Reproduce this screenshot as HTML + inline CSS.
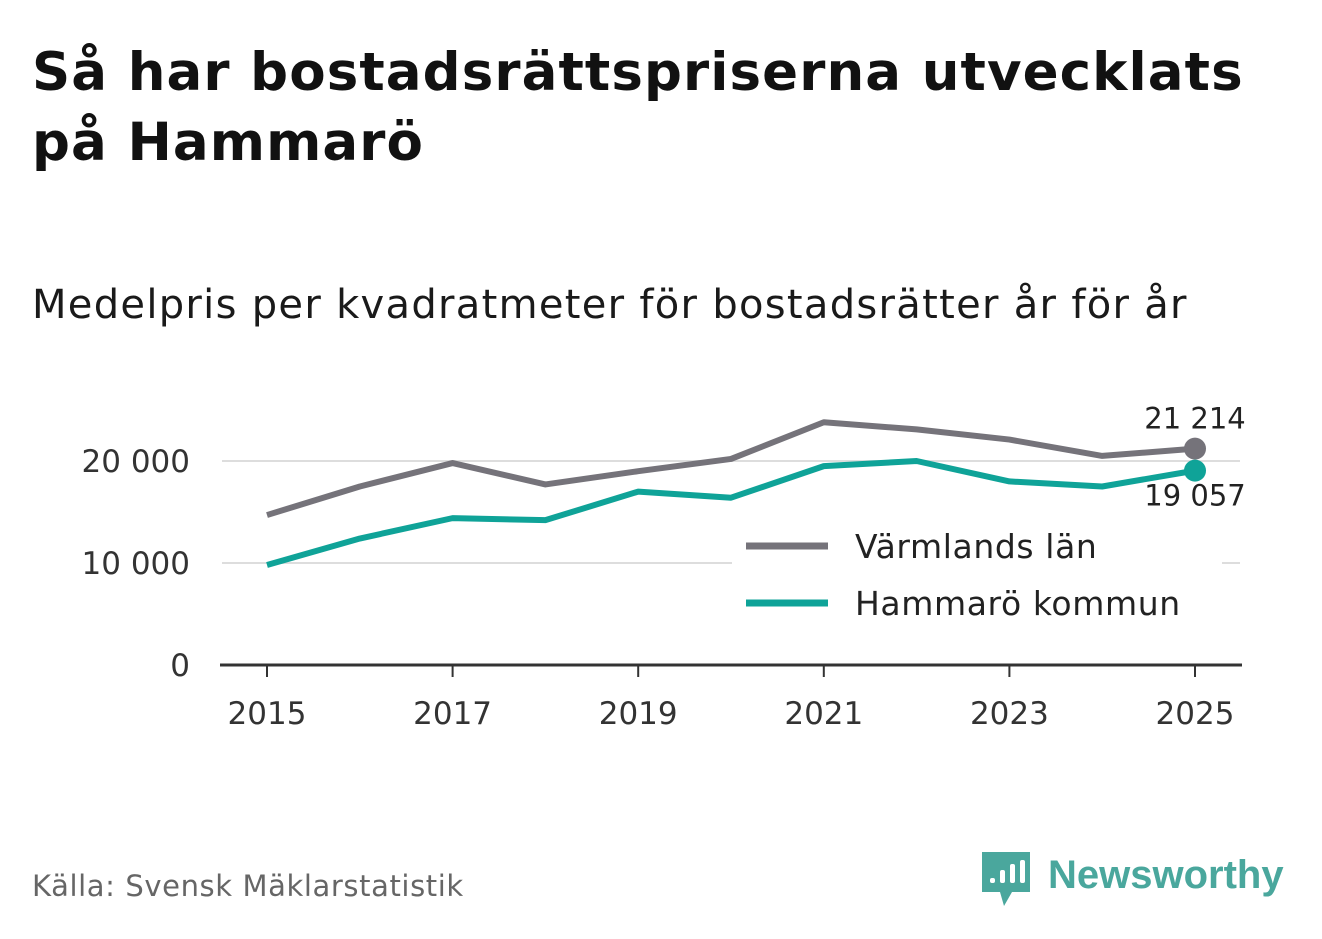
<!DOCTYPE html>
<html><head><meta charset="utf-8">
<style>
body{margin:0;background:#fff;width:1322px;height:939px;overflow:hidden;font-family:"DejaVu Sans","Liberation Sans",sans-serif;}
#title{position:absolute;left:32px;top:38px;font-size:53px;font-weight:bold;color:#111;line-height:70px;letter-spacing:1.1px;white-space:nowrap;}
#sub{position:absolute;left:32px;top:282px;font-size:40px;color:#1a1a1a;letter-spacing:1.3px;white-space:nowrap;}
#src{position:absolute;left:32px;top:869px;font-size:29px;color:#666;letter-spacing:0.6px;}
</style></head><body>
<div id="title">Så har bostadsrättspriserna utvecklats<br>på Hammarö</div>
<div id="sub">Medelpris per kvadratmeter för bostadsrätter år för år</div>
<div id="src">Källa: Svensk Mäklarstatistik</div>
<svg id="chart" width="1322" height="939" style="position:absolute;left:0;top:0"></svg>
<script>
const years=[2015,2016,2017,2018,2019,2020,2021,2022,2023,2024,2025];
const varmland=[14700,17500,19800,17700,19000,20200,23800,23100,22100,20500,21214];
const hammaro=[9800,12400,14400,14200,17000,16400,19500,20000,18000,17500,19057];
const yTicks=[0,10000,20000];
const xTicks=[2015,2017,2019,2021,2023,2025];
const svg=document.getElementById('chart');const NS='http://www.w3.org/2000/svg';
const x=v=>267+(v-2015)*92.8;const y=v=>665-v*0.0102;
function mk(t,a,txt){const e=document.createElementNS(NS,t);for(const k in a)e.setAttribute(k,a[k]);if(txt!=null)e.textContent=txt;svg.appendChild(e);return e;}
const fmt=v=>v>=1000?String(Math.floor(v/1000))+' '+String(v%1000).padStart(3,'0'):String(v);
yTicks.forEach(t=>{
 if(t>0){const g=mk('line',{x1:222,x2:1240,y1:y(t),y2:y(t),stroke:'#ddd','stroke-width':2});
 
 }
 const l=mk('text',{x:190,y:y(t)+11,'text-anchor':'end','font-size':31,fill:'#333'},fmt(t));
 
 
});
const ax=mk('line',{x1:220,x2:1242,y1:665,y2:665,stroke:'#333','stroke-width':3});


xTicks.forEach(t=>{
 const tk=mk('line',{x1:x(t),x2:x(t),y1:665,y2:677,stroke:'#333','stroke-width':2});
 
 
 const l=mk('text',{x:x(t),y:724,'text-anchor':'middle','font-size':31,fill:'#333'},t);
 
 
});
function series(vals,color,name){
 const p=mk('polyline',{points:vals.map((v,i)=>x(years[i])+','+y(v)).join(' '),fill:'none',stroke:color,'stroke-width':6,'stroke-linejoin':'round'});
 
 
 const n=vals.length-1;
 const c=mk('circle',{cx:x(years[n]),cy:y(vals[n]),r:11,fill:color});
 
 
}
const lb=mk('rect',{x:732,y:522,width:490,height:115,fill:'#fff'});


series(varmland,'#75737a','varmland');
series(hammaro,'#0fa398','hammaro');
const n=years.length-1;
const a1=mk('text',{x:1195,y:y(varmland[n])-20,'text-anchor':'middle','font-size':29,fill:'#222'},fmt(varmland[n]));


const a2=mk('text',{x:1195,y:y(hammaro[n])+35,'text-anchor':'middle','font-size':29,fill:'#222'},fmt(hammaro[n]));


[['Värmlands län','#75737a',546],['Hammarö kommun','#0fa398',603]].forEach(([t,c,yy])=>{
 const s=mk('line',{x1:746,x2:828,y1:yy,y2:yy,stroke:c,'stroke-width':7});
 
 
 const l=mk('text',{x:855,y:yy+12,'font-size':33,fill:'#222','letter-spacing':0.6},t);
 
 
});
const lg=mk('path',{d:'M982 852 h48 v40 h-18 l-8 14 l-4 -14 h-18 z',fill:'#4aa79d'});


[[990,878,5],[1000,870,13],[1010,864,19],[1020,860,23]].forEach(([bx,by,h])=>{
 const b=mk('rect',{x:bx,y:by,width:5,height:h,fill:'#fff',rx:2});
 
 
});
const lt=mk('text',{x:1048,y:888,'font-size':40,'font-weight':'bold',fill:'#4aa79d','font-family':'Liberation Sans, sans-serif'},'Newsworthy');


</script>
</body></html>
